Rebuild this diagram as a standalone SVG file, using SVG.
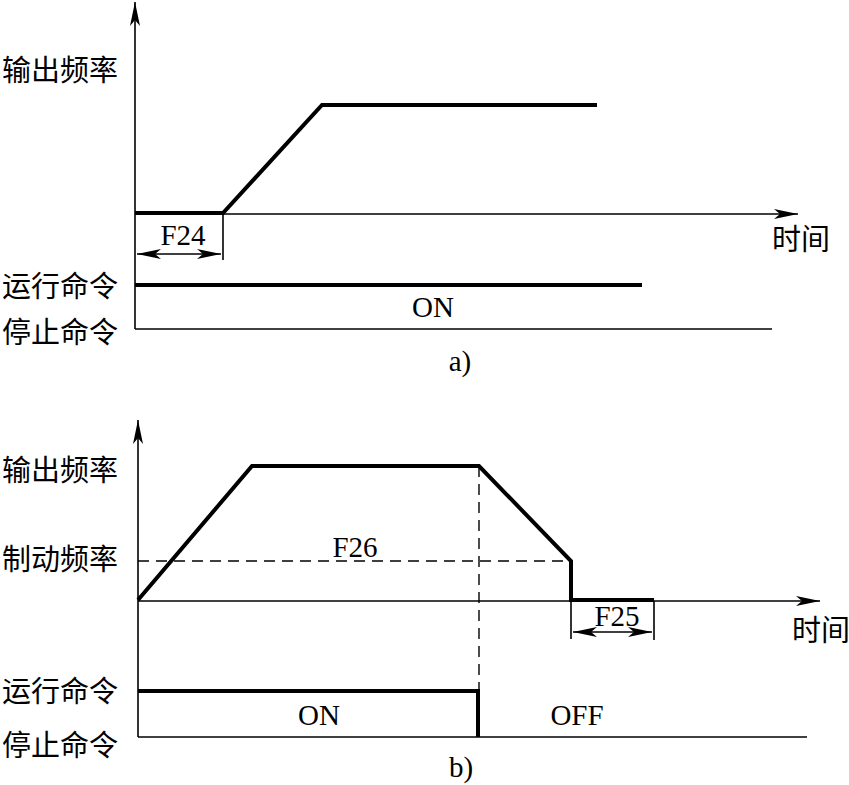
<svg xmlns="http://www.w3.org/2000/svg" width="849" height="785" viewBox="0 0 849 785">
<style>
.thin{stroke:#000;stroke-width:1.6;fill:none}
.thick{stroke:#000;stroke-width:4;fill:none;stroke-linejoin:miter}
.dash{stroke:#000;stroke-width:1.4;fill:none;stroke-dasharray:11,7}
.cn{font-family:"Noto Sans CJK SC","Liberation Serif",serif;font-size:29px;fill:#000}
.en{font-family:"Liberation Serif",serif;font-size:29px;fill:#000}
</style>
<defs>
<marker id="ah" viewBox="0 0 24 10" refX="24" refY="5" markerWidth="24" markerHeight="10" markerUnits="userSpaceOnUse" orient="auto-start-reverse">
<path d="M0,0 L24,5 L0,10 L6,5 z" fill="#000"/>
</marker>
</defs>
<g id="connectors">
<!-- part a -->
<line class="thin" x1="135" y1="329" x2="135" y2="2" marker-end="url(#ah)"/>
<line class="thin" x1="135" y1="214" x2="798" y2="214" marker-end="url(#ah)"/>
<polyline class="thick" points="135,213 223,213 322,105 597,105"/>
<line class="thin" x1="223" y1="213" x2="223" y2="260"/>
<line class="thin" x1="137" y1="254" x2="221" y2="254" marker-start="url(#ah)" marker-end="url(#ah)"/>
<line class="thick" x1="135" y1="285" x2="642" y2="285"/>
<line class="thin" x1="135" y1="329" x2="772" y2="329"/>
<!-- part b -->
<line class="thin" x1="138" y1="737" x2="138" y2="420" marker-end="url(#ah)"/>
<line class="thin" x1="138" y1="601" x2="820" y2="601" marker-end="url(#ah)"/>
<polyline class="thick" points="138,600 252,466 479,466 571,561 571,600 654,600"/>
<line class="dash" x1="138" y1="561" x2="571" y2="561"/>
<line class="dash" x1="479" y1="466" x2="479" y2="737"/>
<line class="thin" x1="571" y1="601" x2="571" y2="639"/>
<line class="thin" x1="654" y1="601" x2="654" y2="640"/>
<line class="thin" x1="573" y1="632" x2="652" y2="632" marker-start="url(#ah)" marker-end="url(#ah)"/>
<polyline class="thick" points="138,691 478,691 478,737"/>
<line class="thin" x1="138" y1="737" x2="807" y2="737"/>
</g>
<g id="labels-a">
<text class="cn" x="2" y="81">输出频率</text>
<text class="cn" x="772" y="250">时间</text>
<text class="cn" x="2" y="297">运行命令</text>
<text class="cn" x="2" y="343">停止命令</text>
<text class="en" x="183" y="245" text-anchor="middle">F24</text>
<text class="en" x="433" y="317" text-anchor="middle">ON</text>
<text class="en" x="460" y="371" text-anchor="middle">a)</text>
</g>
<g id="labels-b">
<text class="cn" x="2" y="481">输出频率</text>
<text class="cn" x="2" y="570">制动频率</text>
<text class="cn" x="792" y="641">时间</text>
<text class="cn" x="2" y="702">运行命令</text>
<text class="cn" x="2" y="756">停止命令</text>
<text class="en" x="355" y="557" text-anchor="middle">F26</text>
<text class="en" x="617" y="626" text-anchor="middle">F25</text>
<text class="en" x="319" y="725" text-anchor="middle">ON</text>
<text class="en" x="577" y="725" text-anchor="middle">OFF</text>
<text class="en" x="461" y="777" text-anchor="middle">b)</text>
</g>
</svg>
